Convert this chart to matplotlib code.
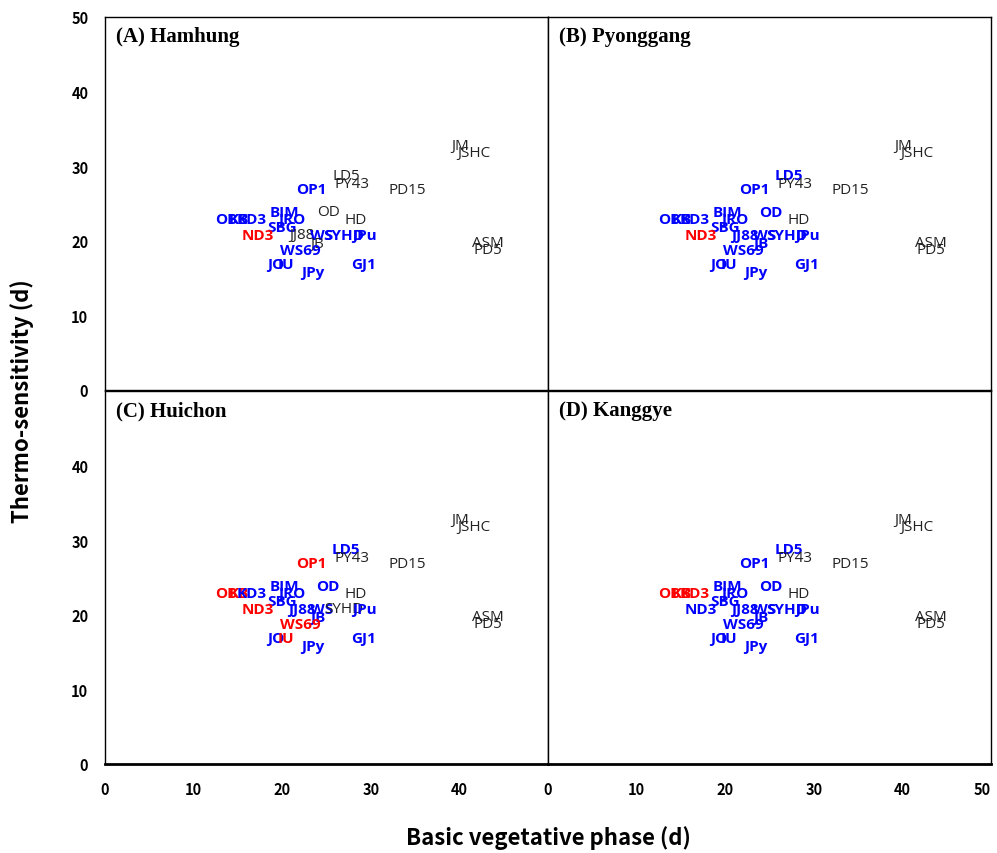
import matplotlib
matplotlib.use("Agg")
import matplotlib.pyplot as plt

# cultivar labels and their (basic vegetative phase, thermo-sensitivity) in days
names = ["OB", "KB", "KD3", "BIM", "JRO", "SBG", "ND3", "OP1", "LD5", "PY43",
         "PD15", "JM", "JSHC", "ASM", "PD5", "OD", "HD", "JJ88", "WS", "SYHD",
         "JPu", "JB", "WS69", "JO", "IU", "JPy", "GJ1"]
bvp = [13.7, 15.1, 16.6, 20.2, 21.1, 20.0, 17.3, 23.3, 27.2, 27.9,
       34.1, 40.1, 41.6, 43.2, 43.2, 25.2, 28.3, 22.2, 24.4, 26.9,
       29.3, 24.0, 22.0, 19.3, 20.4, 23.4, 29.2]
ts = [22.9, 22.9, 22.9, 23.9, 22.9, 21.8, 20.8, 26.9, 28.8, 27.7,
      26.9, 32.8, 31.9, 19.8, 18.9, 23.9, 22.9, 20.8, 20.8, 20.8,
      20.8, 19.7, 18.8, 16.9, 16.9, 15.8, 16.9]

sites = ["(A) Hamhung", "(B) Pyonggang", "(C) Huichon", "(D) Kanggye"]

# per-site grouping: r = red, k = black, everything else blue
groups = {
    "(A) Hamhung": {
        "r": ["ND3"],
        "k": ["LD5", "PY43", "PD15", "JM", "JSHC", "ASM", "PD5", "OD", "HD", "JJ88", "JB"],
    },
    "(B) Pyonggang": {
        "r": ["ND3"],
        "k": ["PY43", "PD15", "JM", "JSHC", "ASM", "PD5", "HD"],
    },
    "(C) Huichon": {
        "r": ["OB", "KB", "ND3", "OP1", "WS69", "IU"],
        "k": ["PY43", "PD15", "JM", "JSHC", "ASM", "PD5", "HD", "SYHD"],
    },
    "(D) Kanggye": {
        "r": ["OB", "KB", "KD3"],
        "k": ["PY43", "PD15", "JM", "JSHC", "ASM", "PD5", "HD"],
    },
}

W, H = 997, 854
fig = plt.figure(figsize=(W / 100, H / 100), dpi=100)

x0, x1 = 105, 548
w = (x1 - x0) / W
hh = (391 - 18) / H
lefts = [x0 / W, x1 / W]
bottoms = [1 - 391 / H, 1 - 765 / H]

tick_font = dict(family="Noto Sans CJK KR", weight="bold", size=10.5)

for i, site in enumerate(sites):
    r, c = divmod(i, 2)
    ax = fig.add_axes([lefts[c], bottoms[r], w, hh])
    ax.set_xlim(0, 50)
    ax.set_ylim(0, 50)
    ax.set_xticks(range(0, 51, 10))
    ax.set_yticks(range(0, 51, 10))
    ax.tick_params(length=0, pad=12)
    for s in ax.spines.values():
        s.set_linewidth(1.0)
    ax.spines["bottom"].set_linewidth(2.0 if r == 1 else 1.0)

    if c == 0:
        ylabs = [str(v) for v in range(0, 51, 10)]
        if r == 1:
            ylabs[-1] = ""
        ax.set_yticklabels(ylabs, fontdict=tick_font)
    else:
        ax.set_yticklabels([])
    if r == 1:
        xlabs = [str(v) for v in range(0, 51, 10)]
        if c == 0:
            xlabs[-1] = ""
        ax.set_xticklabels(xlabs, fontdict=tick_font)
        if c == 1:
            ax.get_xticklabels()[-1].set_ha("right")
    else:
        ax.set_xticklabels([])

    ax.text(0.025, 0.975, site, transform=ax.transAxes, ha="left", va="top",
            family="Liberation Serif", weight="bold", size=15)

    g = groups[site]
    for n, x, y in zip(names, bvp, ts):
        if n in g["r"]:
            col, wt = "red", "bold"
        elif n in g["k"]:
            col, wt = "#222222", "normal"
        else:
            col, wt = "blue", "bold"
        ax.text(x, y, n, color=col, weight=wt, ha="center", va="center",
                family="Open Sans", size=11)

fig.text(0.55, 0.005, "Basic vegetative phase (d)", ha="center", va="bottom",
         family="Noto Sans CJK KR", weight="bold", size=16)
fig.text(0.022, 0.53, "Thermo-sensitivity (d)", ha="center", va="center",
         rotation=90, family="Noto Sans CJK KR", weight="bold", size=16)

fig.savefig("out.png", dpi=100)
